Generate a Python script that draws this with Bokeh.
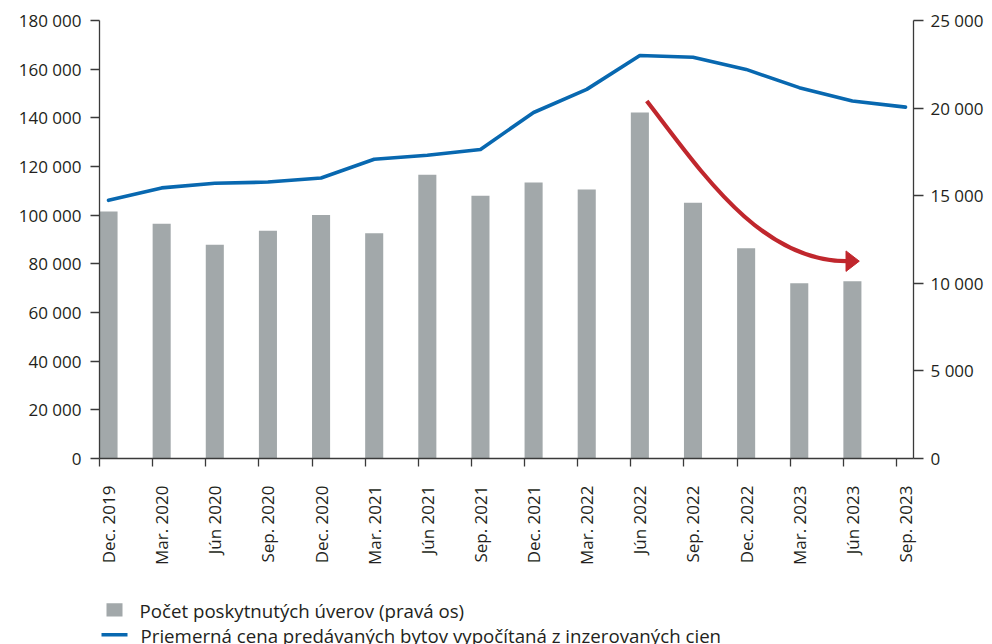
import math
from bokeh.plotting import figure
from bokeh.layouts import column
from bokeh.models import Range1d, LinearAxis, FixedTicker
from bokeh.core.properties import value
from bokeh.embed import file_html
from bokeh.resources import INLINE

# ---------------- data ----------------
periods = ["Dec. 2019", "Mar. 2020", "Jún 2020", "Sep. 2020", "Dec. 2020",
           "Mar. 2021", "Jún 2021", "Sep. 2021", "Dec. 2021", "Mar. 2022",
           "Jún 2022", "Sep. 2022", "Dec. 2022", "Mar. 2023", "Jún 2023",
           "Sep. 2023"]
# number of provided loans (right axis); no value for Sep. 2023
loans = [14100, 13400, 12200, 13000, 13900, 12850, 16200, 15000, 15750,
         15350, 19750, 14600, 12000, 10000, 10120]
# average price of sold flats computed from advertised prices (left axis)
price = [106100, 111200, 113100, 113600, 115300, 123000, 124600, 127000,
         142200, 151700, 165600, 164900, 159900, 152400, 146900, 144400]

left_ticks = [0, 20000, 40000, 60000, 80000, 100000, 120000, 140000, 160000, 180000]
left_labels = ["0", "20 000", "40 000", "60 000", "80 000", "100 000",
               "120 000", "140 000", "160 000", "180 000"]
right_ticks = [0, 5000, 10000, 15000, 20000, 25000]
right_labels = ["0", "5 000", "10 000", "15 000", "20 000", "25 000"]

legend_bars = "Počet poskytnutých úverov (pravá os)"
legend_line = "Priemerná cena predávaných bytov vypočítaná z inzerovaných cien"

# trend arrow annotation (data coordinates: x in period index, y in left-axis units)
arrow_start = (10.30, 146900)
arrow_c0 = (11.31, 118400)
arrow_c1 = (12.44, 80700)
arrow_end = (14.08, 81100)
arrow_tip_x = 14.30
arrow_half_h = 4200

# ---------------- styles ----------------
FONT = "Open Sans"
FS = "17px"
LFS = "18.7px"
TXT = "#231f20"
AX = "#3a3a3a"
GRAY = "#a2a8aa"
BLUE = "#0868b0"
RED = "#c0272d"
BAR_W = 0.34
MAIN_H = 590
W = 992
B_LEFT, B_RIGHT = 99, 79

n = len(periods)
bar_left = list(range(len(loans)))
bar_right = [i + BAR_W for i in bar_left]
line_x = [i + BAR_W / 2 for i in range(n)]

p = figure(width=W, height=MAIN_H, output_backend="svg", toolbar_location=None,
           x_range=Range1d(0, 15.32), y_range=Range1d(0, 180000),
           min_border_left=B_LEFT, min_border_right=B_RIGHT, min_border_top=20,
           min_border_bottom=132)
p.outline_line_color = None
p.xgrid.visible = False
p.ygrid.visible = False
p.background_fill_color = "white"
p.border_fill_color = "white"
p.extra_y_ranges = {"right": Range1d(0, 25000)}

bars = p.quad(left=bar_left, right=bar_right, bottom=0, top=loans,
              y_range_name="right", fill_color=GRAY, line_color=None)
line = p.line(line_x, price, line_color=BLUE, line_width=3.6,
              line_join="round", line_cap="round")

# arrow
p.bezier(x0=[arrow_start[0]], y0=[arrow_start[1]], x1=[arrow_end[0]], y1=[arrow_end[1]],
         cx0=[arrow_c0[0]], cy0=[arrow_c0[1]], cx1=[arrow_c1[0]], cy1=[arrow_c1[1]],
         line_color=RED, line_width=4.2)
p.patch([arrow_end[0] - 0.03, arrow_tip_x, arrow_end[0] - 0.03],
        [arrow_end[1] - arrow_half_h, arrow_end[1], arrow_end[1] + arrow_half_h],
        fill_color=RED, line_color=RED, line_width=1)

def style_axis(ax):
    ax.axis_line_color = AX
    ax.axis_line_width = 1.3
    ax.major_tick_line_color = AX
    ax.major_tick_line_width = 1.3
    ax.minor_tick_line_color = None
    ax.major_tick_in = 0
    ax.major_label_text_font = FONT
    ax.major_label_text_font_size = FS
    ax.major_label_text_color = TXT

# left axis
ya = p.yaxis[0]
ya.ticker = FixedTicker(ticks=left_ticks)
ya.major_label_overrides = {t: l for t, l in zip(left_ticks, left_labels)}
style_axis(ya)
ya.major_tick_out = 9
ya.major_label_standoff = 9

# right axis
ra = LinearAxis(y_range_name="right", ticker=FixedTicker(ticks=right_ticks))
ra.major_label_overrides = {t: l for t, l in zip(right_ticks, right_labels)}
style_axis(ra)
ra.major_tick_out = 10
ra.major_label_standoff = 7
p.add_layout(ra, "right")

# bottom axis: labels centred on the bars, tick marks at period boundaries
xa = p.xaxis[0]
label_pos = [i + BAR_W / 2 for i in range(n)]
xa.ticker = FixedTicker(ticks=label_pos, minor_ticks=list(range(n)))
xa.major_label_overrides = {x: l for x, l in zip(label_pos, periods)}
style_axis(xa)
xa.major_tick_line_color = None
xa.major_tick_out = 0
xa.minor_tick_line_color = AX
xa.minor_tick_line_width = 1.3
xa.minor_tick_out = 8
xa.minor_tick_in = 0
xa.major_label_standoff = 19
xa.major_label_orientation = math.pi / 2

# ---------------- legend strip (page pixel coordinates) ----------------
lg = figure(width=W, height=644 - MAIN_H, output_backend="svg", toolbar_location=None,
            x_range=Range1d(B_LEFT, W - B_RIGHT), y_range=Range1d(644, MAIN_H),
            min_border_left=B_LEFT, min_border_right=B_RIGHT,
            min_border_top=0, min_border_bottom=0)
lg.axis.visible = False
lg.grid.visible = False
lg.outline_line_color = None
lg.border_fill_color = "white"

lg.quad(left=[106], right=[122], top=[602.7], bottom=[616], fill_color=GRAY, line_color=None)
lg.segment(x0=[101], y0=[634.3], x1=[127], y1=[634.3], line_color=BLUE, line_width=3.4)
lg.text(x=[139, 140], y=[609.5, 635], text=[legend_bars, legend_line],
        text_font=value(FONT), text_font_size=LFS, text_color=TXT,
        text_baseline="middle", text_align="left")

open("out.html", "w").write(file_html(column(p, lg, spacing=0), INLINE))
